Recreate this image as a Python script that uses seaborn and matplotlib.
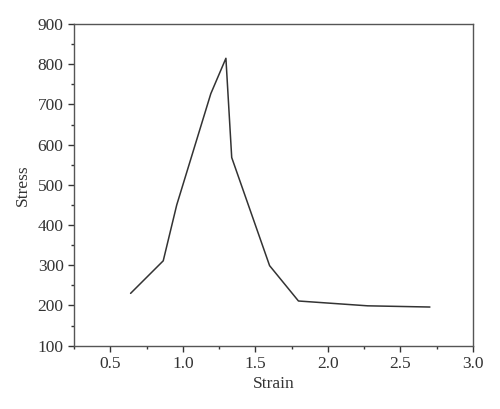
import matplotlib
matplotlib.use("Agg")
import matplotlib.pyplot as plt
import seaborn as sns
import pandas as pd
from matplotlib.ticker import MultipleLocator

# strain / stress values
strain = [0.64, 0.865, 0.958, 1.193, 1.297, 1.337, 1.598, 1.797, 2.274, 2.703]
stress = [230, 311, 450, 727, 815, 568, 299, 211, 199, 196]

df = pd.DataFrame({"Strain": strain, "Stress": stress})

sns.set_style("ticks")
plt.rcParams['font.family'] = ['Liberation Serif', 'DejaVu Serif']

fig = plt.figure(figsize=(5, 4.09), dpi=100)
ax = fig.add_axes([0.148, 0.155, 0.798, 0.786])

sns.lineplot(data=df, x="Strain", y="Stress", sort=False, color="#333333", linewidth=1.1, ax=ax)

ax.set_xlim(0.25, 3.0)
ax.set_ylim(100, 900)
ax.xaxis.set_major_locator(MultipleLocator(0.5))
ax.xaxis.set_minor_locator(MultipleLocator(0.25))
ax.yaxis.set_major_locator(MultipleLocator(100))
ax.yaxis.set_minor_locator(MultipleLocator(50))
ax.tick_params(which="major", length=4, width=1, labelsize=12.5, colors="#333333")
ax.tick_params(which="minor", length=2.5, width=1, colors="#333333")
for s in ax.spines.values():
    s.set_color("#555555")
    s.set_linewidth(1)

ax.set_xlabel("Strain", fontsize=12.5, color="#333333", labelpad=3)
ax.set_ylabel("Stress", fontsize=12.5, color="#333333", labelpad=5)

fig.savefig("out.png", dpi=100)
